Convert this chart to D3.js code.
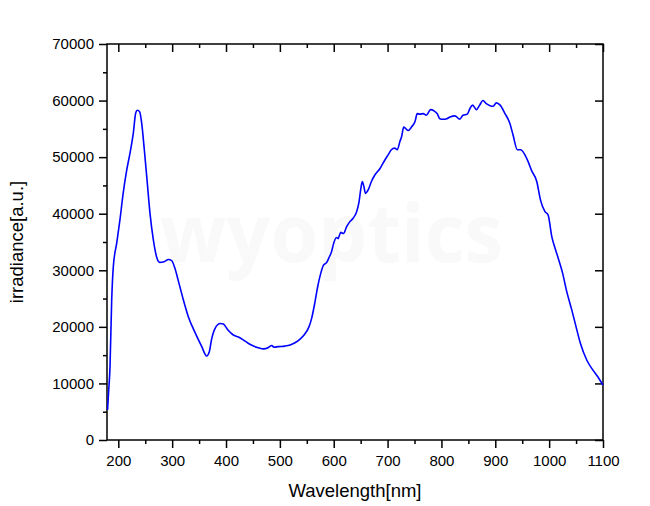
<!DOCTYPE html>
<html lang="en">
  <head>
    <meta charset="utf-8">
    <title>Irradiance spectrum</title>
    <script src="https://cdnjs.cloudflare.com/ajax/libs/d3/7.8.5/d3.min.js"></script>
    <style>
      body { margin: 0; background: #fff; }
      svg text { font-family: "Liberation Sans", Arial, sans-serif; fill: #000; }
    </style>
  </head>
  <body>
    <div id="chart"></div>
    <script>
    // spectrum
    const wavelength = [180, 182, 184.6, 187.7, 190.7, 197, 203, 209, 215.6, 221.7, 227.8, 232.3, 235.3, 239.7,
      243.4, 248.3, 253.3, 258.8, 265, 271, 277, 285, 293, 299, 305, 311, 321, 330, 343, 355, 364, 369, 373,
      379.5, 389, 395, 404, 413, 423, 432, 441, 451, 460, 470, 478, 485, 489, 497, 509, 519, 528, 537, 546,
      554, 559, 565, 570, 576, 581, 587, 591, 596, 600, 605, 608, 613, 618, 624, 630, 636, 642, 647, 650, 653,
      656, 659, 664, 670, 676, 686, 695, 701, 707, 713, 718, 723, 726, 730, 738, 745, 751, 755, 760, 766, 772,
      780, 786, 792, 797, 803, 810, 816, 825, 834, 840, 848, 853, 858, 865, 871, 877, 884, 893, 896, 902, 909,
      918, 927, 933, 941, 947, 955, 961, 967, 977, 984, 992, 998, 1005, 1011, 1017, 1025, 1032, 1042, 1050,
      1058, 1070, 1081, 1091, 1100];
    const irradiance = [5300, 8500, 13000, 24700, 30600, 34800, 38900, 43600, 47700, 50700, 54200, 57800, 58300, 58000,
      56000, 51300, 46000, 40100, 35400, 32400, 31400, 31500, 31900, 31700, 30400, 28300, 24700, 21800, 18900, 16500, 14850, 15600, 17700,
      19700, 20600, 20500, 19400, 18600, 18200, 17700, 17100, 16600, 16300, 16100, 16300, 16700, 16400, 16500, 16600, 16800, 17200, 17800, 18700,
      20000, 21500, 24300, 27000, 29500, 30900, 31400, 32200, 33300, 34800, 35800, 35600, 36700, 36500, 37700, 38600, 39200, 40200, 42100, 44200, 45700,
      44800, 43600, 44200, 45700, 46800, 48000, 49500, 50400, 51300, 51600, 51300, 52800, 53600, 55300, 54700, 55400, 56300, 57700, 57600, 57700, 57400,
      58400, 58200, 57700, 56800, 56700, 56800, 57100, 57300, 56700, 57400, 57600, 58600, 59200, 58400, 59200, 60000, 59400, 59000, 59000, 59600, 59200,
      57700, 56000, 53900, 51300, 51300, 50400, 49200, 47700, 45700, 42400, 40400, 39800, 35900, 33900, 32100, 29500, 26500, 23000, 20000,
      17100, 14100, 12400, 11100, 9700];

    const xTicks = [200, 300, 400, 500, 600, 700, 800, 900, 1000, 1100];
    const xMinor = [250, 350, 450, 550, 650, 750, 850, 950, 1050];
    const yTicks = [0, 10000, 20000, 30000, 40000, 50000, 60000, 70000];
    const yMinor = [5000, 15000, 25000, 35000, 45000, 55000, 65000];

    const w = 650, h = 506;
    const margin = {top: 44, right: 47, bottom: 66, left: 107};
    const iw = w - margin.left - margin.right;
    const ih = h - margin.top - margin.bottom;

    const svg = d3.select("#chart").append("svg")
      .attr("width", w)
      .attr("height", h);

    // faint watermark
    svg.append("text")
      .attr("x", 160).attr("y", 262)
      .attr("textLength", 343)
      .attr("lengthAdjust", "spacingAndGlyphs")
      .style("font-family", "'Open Sans', sans-serif")
      .style("font-weight", "bold")
      .style("font-size", "80px")
      .style("fill", "#f9f9f9")
      .text("wyoptics");

    const g = svg.append("g")
      .attr("transform", "translate(" + margin.left + "," + margin.top + ")");

    const x = d3.scaleLinear().domain([179, 1100]).range([0, iw]);
    const y = d3.scaleLinear().domain([0, 70000]).range([ih, 0]);

    function styleAxis(sel) {
      sel.select(".domain").remove();
      sel.selectAll("line").attr("stroke", "#000").attr("stroke-width", 1.5);
      sel.selectAll("text").style("font-size", "15px");
    }

    // bottom
    g.append("g").attr("transform", "translate(0," + ih + ")")
      .call(d3.axisBottom(x).tickValues(xTicks).tickSize(8).tickPadding(7).tickFormat(d3.format("d")))
      .call(styleAxis);
    g.append("g").attr("transform", "translate(0," + ih + ")")
      .call(d3.axisBottom(x).tickValues(xMinor).tickSize(4).tickFormat(""))
      .call(styleAxis);
    // left
    g.append("g")
      .call(d3.axisLeft(y).tickValues(yTicks).tickSize(8).tickPadding(5).tickFormat(d3.format("d")))
      .call(styleAxis);
    g.append("g")
      .call(d3.axisLeft(y).tickValues(yMinor).tickSize(4).tickFormat(""))
      .call(styleAxis);
    // top (inward)
    g.append("g")
      .call(d3.axisTop(x).tickValues(xTicks).tickSize(-8).tickFormat(""))
      .call(styleAxis);
    g.append("g")
      .call(d3.axisTop(x).tickValues(xMinor).tickSize(-4).tickFormat(""))
      .call(styleAxis);
    // right (inward, major only)
    g.append("g").attr("transform", "translate(" + iw + ",0)")
      .call(d3.axisRight(y).tickValues(yTicks).tickSize(-8).tickFormat(""))
      .call(styleAxis);

    g.append("rect")
      .attr("width", iw).attr("height", ih)
      .attr("fill", "none")
      .attr("stroke", "#000")
      .attr("stroke-width", 1.5);

    const line = d3.line()
      .curve(d3.curveMonotoneX)
      .x((d, i) => x(wavelength[i]))
      .y(d => y(d));

    g.append("path")
      .datum(irradiance)
      .attr("fill", "none")
      .attr("stroke", "#0000ff")
      .attr("stroke-width", 1.6)
      .attr("stroke-linejoin", "round")
      .attr("d", line);

    // axis titles
    svg.append("text")
      .attr("x", margin.left + iw / 2).attr("y", 497)
      .attr("text-anchor", "middle")
      .style("font-size", "18.5px")
      .text("Wavelength[nm]");

    svg.append("text")
      .attr("transform", "translate(23," + (margin.top + ih / 2) + ") rotate(-90)")
      .attr("text-anchor", "middle")
      .style("font-size", "18.5px")
      .text("irradiance[a.u.]");
    </script>
  </body>
</html>
